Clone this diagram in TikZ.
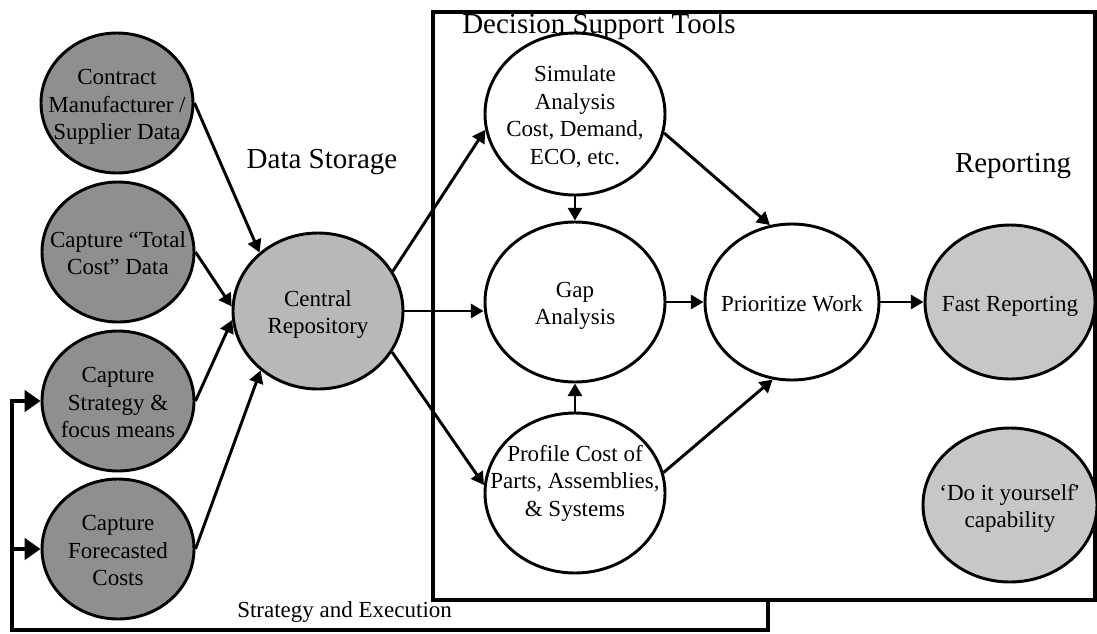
\documentclass[tikz,border=0pt]{standalone}
\usepackage{fontspec}
\setmainfont{Liberation Serif}
\usetikzlibrary{shapes.geometric,arrows.meta,calc}
\newcommand\ovaltext{\fontsize{17.25}{20.7}\selectfont}
\newcommand\headtext{\fontsize{21.75}{26}\selectfont}
% centred block of lines that does not widen the oval around it
\newcommand\ovalbody[2][-7pt]{\smash{\raisebox{#1}{\makebox[0pt]{\begin{tabular}{@{}c@{}}#2\end{tabular}}}}}
\definecolor{inputgray}{gray}{0.56}
\definecolor{repogray}{gray}{0.72}
\definecolor{reportgray}{gray}{0.78}
\begin{document}
\begin{tikzpicture}[x=0.75pt,y=-0.75pt,
  size/.style 2 args={minimum width=#1*0.75pt,minimum height=#2*0.75pt},
  oval/.style={ellipse,draw,line width=2.2pt,inner sep=0pt,font=\ovaltext},
  inputoval/.style={oval,fill=inputgray,size={152}{140}},
  tooloval/.style={oval,fill=white,size={180}{160}},
  reportoval/.style={oval,fill=reportgray,size={170}{154}},
  heading/.style={font=\headtext,inner sep=0pt,anchor=base},
  arr/.style={line width=2.2pt,-{Triangle[length=9.5pt,width=10.5pt]}},
  frame/.style={line width=3pt},
  fbarrow/.style={line width=3pt,-{Triangle[length=12pt,width=16pt]}}]
\useasboundingbox (0,0) rectangle (1097,633);

% Decision Support Tools frame
\coordinate (boxnw) at (433,12);
\coordinate (boxse) at (1095,600);
\draw[frame] (boxnw) rectangle (boxse);

% headings
\node[heading] (hstore) at (322,168) {Data Storage};
\node[heading,anchor=base west] (htools) at (462,33) {Decision Support Tools};
\node[heading] (hreport) at (1013,172) {Reporting};
\node[font=\ovaltext,inner sep=0pt,anchor=base west] (hstrat) at (237,617) {Strategy and Execution};

% data capture
\node[inputoval] (contract) at (117,103) {\ovalbody{Contract\\Manufacturer /\\Supplier Data}};
\node[inputoval] (total) at (118,252) {\ovalbody{Capture “Total\\Cost” Data}};
\node[inputoval] (strategy) at (118,401) {\ovalbody{Capture\\Strategy \&\\focus means}};
\node[inputoval] (forecast) at (118,549) {\ovalbody{Capture\\Forecasted\\Costs}};

% data storage
\node[oval,fill=repogray,size={170}{156}] (central) at (318,311) {\ovalbody{Central\\Repository}};

% decision support tools
\node[tooloval,size={180}{162}] (simulate) at (575,114) {\ovalbody{Simulate\\Analysis\\Cost, Demand,\\ECO, etc.}};
\node[tooloval] (gap) at (575,302) {\ovalbody{Gap\\Analysis}};
\node[tooloval] (profile) at (575,493) {\ovalbody[3pt]{Profile Cost of\\Parts, Assemblies,\\\& Systems}};
\node[tooloval,size={174}{156}] (prioritize) at (792,302) {\ovalbody{Prioritize Work}};

% reporting
\node[reportoval] (fast) at (1010,302) {\ovalbody{Fast Reporting}};
\node[reportoval,size={174}{154}] (diy) at (1010,505) {\ovalbody{‘Do it yourself\kern-1.5pt’\\capability}};

% flows into the repository
\draw[arr] (contract.east) -- (central.135);
\draw[arr] (total.east) -- (central.177);
\draw[arr] (strategy.east) -- (central.186);
\draw[arr] (forecast.east) -- (central.226);

% repository to tools
\draw[arr] (central.28) -- (simulate.190);
\draw[arr] (central.east) -- (central.east -| gap.west);
\draw[arr] (central.-29) -- (profile.175);

% within the tools
\draw[arr] (simulate.south) -- (gap.north);
\draw[arr] (profile.north) -- (gap.south);
\draw[arr] (gap.east) -- (prioritize.west);
\draw[arr] (simulate.-12) -- (prioritize.106);
\draw[arr] (profile.13) -- (prioritize.256);
\draw[arr] (prioritize.east) -- (fast.west);

% strategy and execution feedback loop
\coordinate (fbtop) at (768,600);
\coordinate (fbbot) at (768,630);
\coordinate (fbleft) at (12,630);
\draw[fbarrow] (fbtop) -- (fbbot) -- (fbleft) |- (strategy.west);
\draw[fbarrow] (fbleft |- forecast.west) -- (forecast.west);
\end{tikzpicture}
\end{document}
